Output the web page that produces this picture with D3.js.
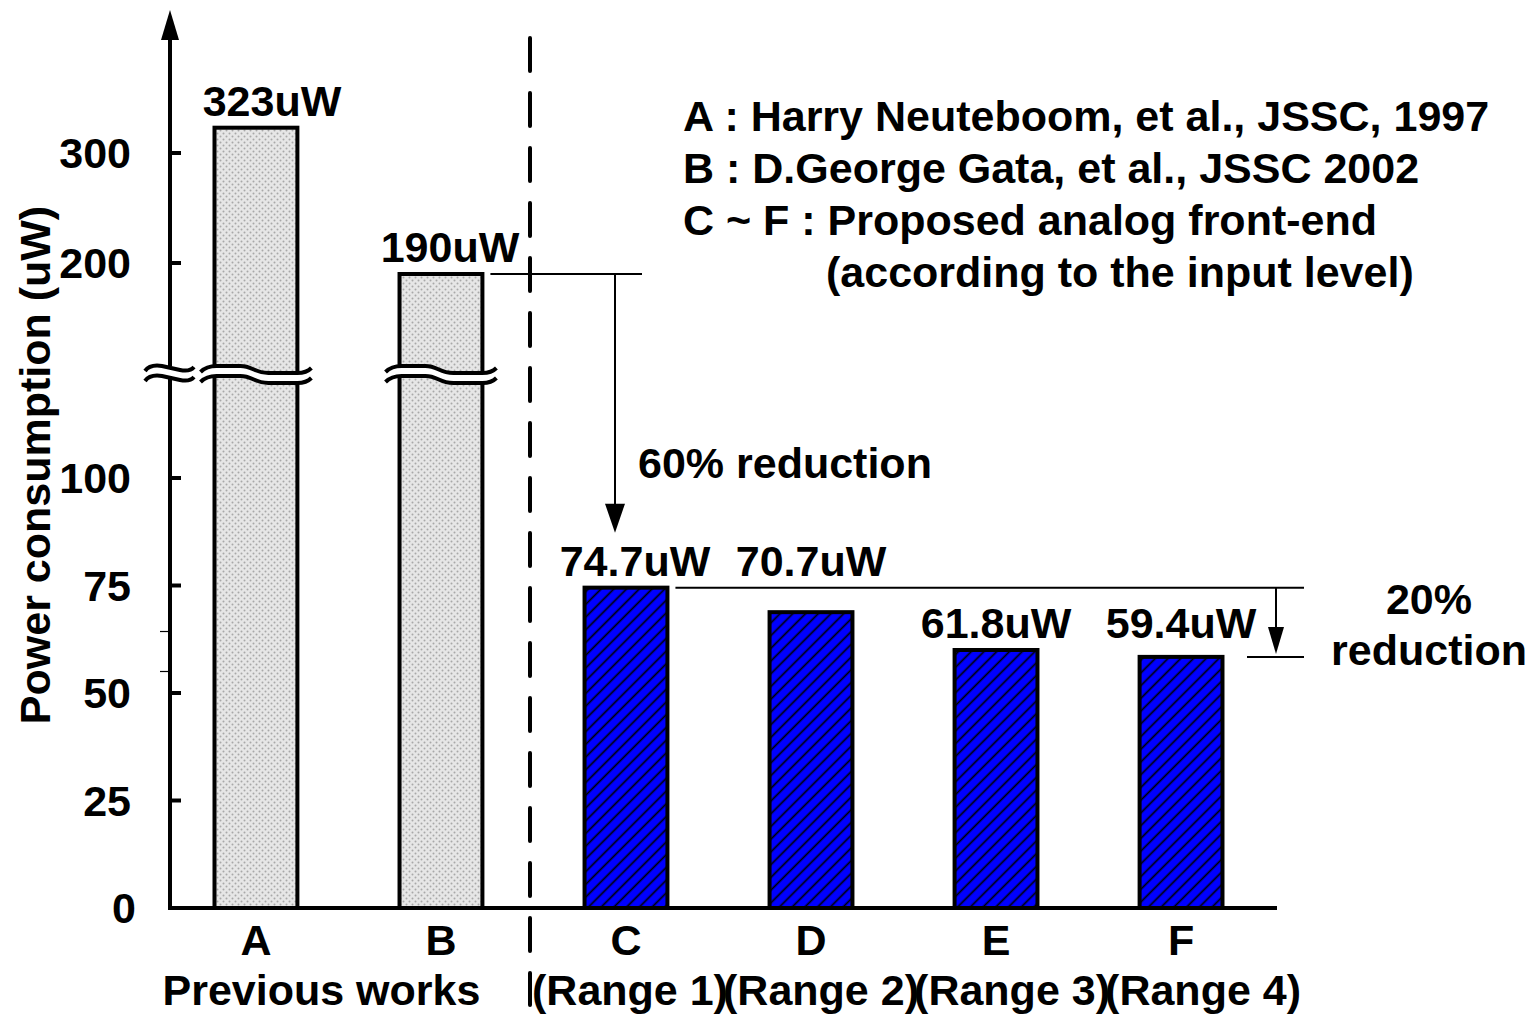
<!DOCTYPE html>
<html>
<head>
<meta charset="utf-8">
<script src="https://cdn.jsdelivr.net/npm/d3@7"></script>
<style>
  body { margin: 0; background: #fff; }
  svg text { font-family: "Liberation Sans", Arial, sans-serif; font-weight: bold; fill: #000; }
</style>
</head>
<body>
<svg id="chart" width="1531" height="1015"></svg>
<script>
const categories = ["A", "B", "C", "D", "E", "F"];
const values = [323, 190, 74.5, 68.8, 60, 58.4];
const valueLabels = ["323uW", "190uW", "74.7uW", "70.7uW", "61.8uW", "59.4uW"];
const groupLabels = ["(Range 1)", "(Range 2)", "(Range 3)", "(Range 4)"];
const lowTicks = [0, 25, 50, 75, 100];
const highTicks = [200, 300];
const minorTicks = [55, 64.3];
const legendLines = [
  "A : Harry Neuteboom, et al., JSSC, 1997",
  "B : D.George Gata, et al., JSSC 2002",
  "C ~ F : Proposed analog front-end",
  "(according to the input level)"
];

const svg = d3.select("#chart");
const fs = 43;

// broken y axis: two linear pieces, the break sits at y=372
const yLow = d3.scaleLinear().domain([0, 100]).range([908, 478]);
const yHigh = d3.scaleLinear().domain([200, 300]).range([263, 153]);
const breakY = 372;
const y = (v) => (v <= yLow.invert(breakY) ? yLow(v) : yHigh(v));

const x = d3.scaleBand().domain(categories).range([159, 1278]).paddingInner(0.552).paddingOuter(0.3);
const cx = (d) => x(d) + x.bandwidth() / 2;

const defs = svg.append("defs");
const dots = defs.append("pattern").attr("id", "dots")
  .attr("patternUnits", "userSpaceOnUse").attr("width", 6).attr("height", 6);
dots.append("rect").attr("width", 6).attr("height", 6).attr("fill", "#e6e6e6");
dots.append("circle").attr("cx", 1.5).attr("cy", 1.5).attr("r", 1).attr("fill", "#a8a8a8");
dots.append("circle").attr("cx", 4.5).attr("cy", 4.5).attr("r", 1).attr("fill", "#a8a8a8");

const hatch = defs.append("pattern").attr("id", "hatch")
  .attr("patternUnits", "userSpaceOnUse").attr("width", 9).attr("height", 9)
  .attr("patternTransform", "rotate(45)");
hatch.append("rect").attr("width", 9).attr("height", 9).attr("fill", "#0000ff");
hatch.append("line").attr("x1", 4.5).attr("x2", 4.5).attr("y1", 0).attr("y2", 9)
  .attr("stroke", "#000").attr("stroke-width", 1.7);

// bars
svg.append("g").selectAll("rect").data(categories).join("rect")
  .attr("x", (d) => x(d))
  .attr("y", (d, i) => y(values[i]))
  .attr("width", x.bandwidth())
  .attr("height", (d, i) => y(0) - y(values[i]))
  .attr("fill", (d, i) => (i < 2 ? "url(#dots)" : "url(#hatch)"))
  .attr("stroke", "#000").attr("stroke-width", 4);

// break marks on the tall bars
function breakMark(x0, x1) {
  const drop = 7;
  const mid = x0 + (x1 - x0) * 0.45;
  const line = (off) => {
    const yy = breakY - 6 + off;
    return `M${x0},${yy + 6} Q${x0 + 6},${yy} ${x0 + 16},${yy}` +
      ` L${mid - 10},${yy} C${mid + 2},${yy} ${mid + 4},${yy + drop} ${mid + 18},${yy + drop}` +
      ` L${x1 - 14},${yy + drop} Q${x1 - 5},${yy + drop} ${x1},${yy + drop - 5}`;
  };
  const g = svg.append("g");
  const top = breakY - 6, bot = breakY + 4;
  g.append("path")
    .attr("d", `M${x0 + 8},${top} L${mid - 10},${top} C${mid + 2},${top} ${mid + 4},${top + drop} ${mid + 18},${top + drop} L${x1 - 8},${top + drop} L${x1 - 8},${bot + drop} L${mid + 18},${bot + drop} C${mid + 4},${bot + drop} ${mid + 2},${bot} ${mid - 10},${bot} L${x0 + 8},${bot} Z`)
    .attr("fill", "#fff");
  g.append("path").attr("d", line(0)).attr("fill", "none").attr("stroke", "#000").attr("stroke-width", 4);
  g.append("path").attr("d", line(10)).attr("fill", "none").attr("stroke", "#000").attr("stroke-width", 4);
}
breakMark(x("A") - 14, x("A") + x.bandwidth() + 14);
breakMark(x("B") - 14, x("B") + x.bandwidth() + 14);

// axes
const axisX = 170;
svg.append("line").attr("x1", axisX).attr("x2", axisX).attr("y1", y(0) + 2).attr("y2", 30)
  .attr("stroke", "#000").attr("stroke-width", 4);
svg.append("path").attr("d", `M${axisX},10 L${axisX - 9},40 L${axisX + 9},40 Z`).attr("fill", "#000");
{
  const g = svg.append("g");
  g.append("rect").attr("x", axisX - 3).attr("y", breakY - 6).attr("width", 6).attr("height", 10).attr("fill", "#fff");
  [0, 10].forEach((off) => {
    const yy = breakY - 6 + off;
    g.append("path")
      .attr("d", `M${axisX - 25},${yy + 5} Q${axisX - 20},${yy - 2} ${axisX - 8},${yy} L${axisX + 10},${yy + 4} Q${axisX + 20},${yy + 6} ${axisX + 24},${yy + 1}`)
      .attr("fill", "none").attr("stroke", "#000").attr("stroke-width", 4);
  });
}
svg.append("line").attr("x1", axisX - 2).attr("x2", 1277).attr("y1", y(0)).attr("y2", y(0))
  .attr("stroke", "#000").attr("stroke-width", 4);

const ticks = lowTicks.map((v) => ({ v, py: yLow(v) })).concat(highTicks.map((v) => ({ v, py: yHigh(v) })));
svg.append("g").selectAll("line").data(ticks.filter((d) => d.v > 0)).join("line")
  .attr("x1", axisX).attr("x2", axisX + 11).attr("y1", (d) => d.py).attr("y2", (d) => d.py)
  .attr("stroke", "#000").attr("stroke-width", 4);
svg.append("g").selectAll("line").data(minorTicks).join("line")
  .attr("x1", axisX - 10).attr("x2", axisX).attr("y1", (d) => yLow(d)).attr("y2", (d) => yLow(d))
  .attr("stroke", "#000").attr("stroke-width", 1.2);
svg.append("g").selectAll("text").data(ticks).join("text")
  .attr("x", (d) => (d.v === 0 ? 136 : 131)).attr("y", (d) => d.py).attr("dy", "0.35em")
  .attr("text-anchor", "end").attr("font-size", fs).text((d) => d.v);

svg.append("text")
  .attr("transform", `translate(50,${(205 + 725) / 2}) rotate(-90)`)
  .attr("text-anchor", "middle").attr("font-size", fs).text("Power consumption (uW)");

// category labels
svg.append("g").selectAll("text").data(categories).join("text")
  .attr("x", (d) => cx(d)).attr("y", 955)
  .attr("text-anchor", "middle").attr("font-size", fs).text((d) => d);
svg.append("text").attr("x", (cx("A") + cx("B")) / 2 - 27).attr("y", 1005)
  .attr("text-anchor", "middle").attr("font-size", fs).text("Previous works");
svg.append("g").selectAll("text").data(groupLabels).join("text")
  .attr("x", (d, i) => cx(categories[i + 2]) + 4 + i * 6).attr("y", 1005)
  .attr("text-anchor", "middle").attr("font-size", fs).text((d) => d);

// value labels (D and F share the row of their left neighbour)
const labelRow = (i) => (i === 3 || i === 5 ? i - 1 : i);
svg.append("g").selectAll("text").data(valueLabels).join("text")
  .attr("x", (d, i) => cx(categories[i]) + (i === 0 ? 16 : i < 3 ? 9 : 0))
  .attr("y", (d, i) => y(values[labelRow(i)]) - 12)
  .attr("text-anchor", "middle").attr("font-size", fs).text((d) => d);

// divider between previous works and proposed
svg.append("line").attr("x1", 530).attr("x2", 530).attr("y1", 38).attr("y2", 1005)
  .attr("stroke", "#000").attr("stroke-width", 4)
  .attr("stroke-dasharray", "33,22").attr("stroke-linecap", "round");

// 60% reduction annotation
const yB = y(values[1]);
const yC = y(values[2]);
const yF = y(values[5]);
const arrowX1 = 615;
svg.append("line").attr("x1", x("B") + x.bandwidth() + 8).attr("x2", 642).attr("y1", yB).attr("y2", yB)
  .attr("stroke", "#000").attr("stroke-width", 2);
svg.append("line").attr("x1", arrowX1).attr("x2", arrowX1).attr("y1", yB).attr("y2", yC - 80)
  .attr("stroke", "#000").attr("stroke-width", 2);
svg.append("path").attr("d", `M${arrowX1 - 10},${yC - 84} L${arrowX1 + 10},${yC - 84} L${arrowX1},${yC - 55} Z`).attr("fill", "#000");
svg.append("text").attr("x", 638).attr("y", 478).attr("font-size", fs).text("60% reduction");

// 20% reduction annotation
const arrowX2 = 1276;
svg.append("line").attr("x1", x("C") + x.bandwidth() + 8).attr("x2", 1304).attr("y1", yC).attr("y2", yC)
  .attr("stroke", "#000").attr("stroke-width", 2);
svg.append("line").attr("x1", 1247).attr("x2", 1304).attr("y1", yF).attr("y2", yF)
  .attr("stroke", "#000").attr("stroke-width", 2);
svg.append("line").attr("x1", arrowX2).attr("x2", arrowX2).attr("y1", yC).attr("y2", yF - 25)
  .attr("stroke", "#000").attr("stroke-width", 2);
svg.append("path").attr("d", `M${arrowX2 - 8},${yF - 30} L${arrowX2 + 8},${yF - 30} L${arrowX2},${yF - 3} Z`).attr("fill", "#000");
svg.append("text").attr("x", 1429).attr("y", 614).attr("text-anchor", "middle").attr("font-size", fs).text("20%");
svg.append("text").attr("x", 1429).attr("y", 665).attr("text-anchor", "middle").attr("font-size", fs).text("reduction");

// legend
svg.append("g").selectAll("text").data(legendLines).join("text")
  .attr("x", (d, i) => (i === 3 ? 826 : 683))
  .attr("y", (d, i) => 131 + i * 52)
  .attr("font-size", fs).text((d) => d);
</script>
</body>
</html>
